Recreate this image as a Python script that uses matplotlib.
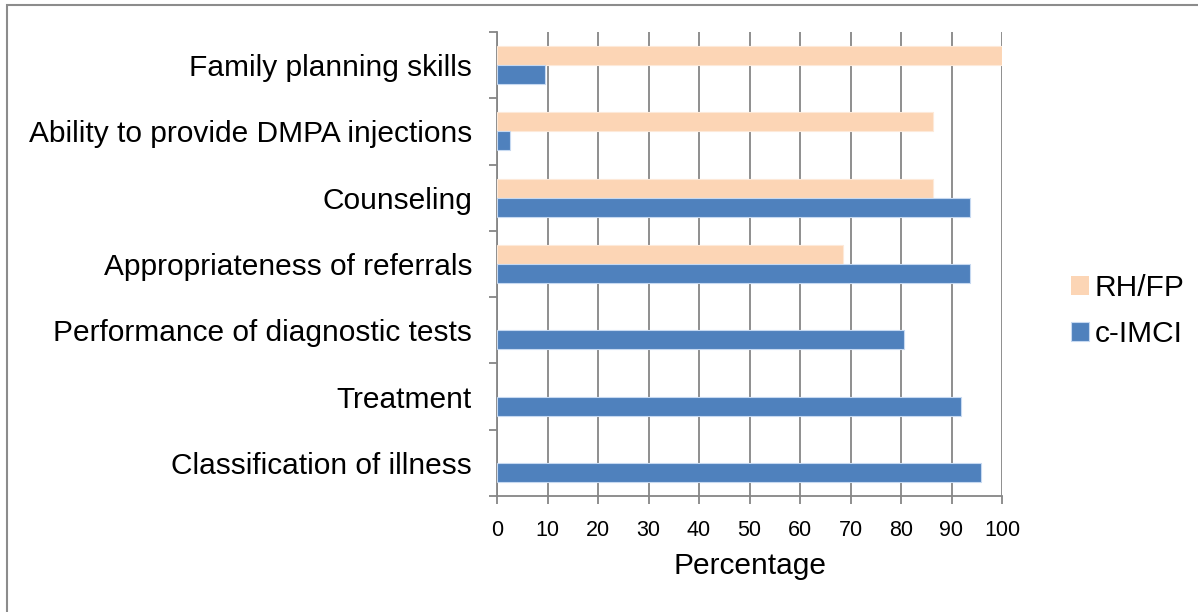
import numpy as np
import matplotlib.pyplot as plt
from matplotlib.patches import Rectangle

plt.rcParams['font.family'] = ['Liberation Sans', 'DejaVu Sans']

# categories listed bottom to top
categories = ['Classification of illness', 'Treatment', 'Performance of diagnostic tests',
              'Appropriateness of referrals', 'Counseling',
              'Ability to provide DMPA injections', 'Family planning skills']
cimci = [95.9, 91.8, 80.5, 93.7, 93.7, 2.6, 9.6]
rhfp = [0, 0, 0, 68.6, 86.3, 86.3, 100]
xticks = [0, 10, 20, 30, 40, 50, 60, 70, 80, 90, 100]

grid_col = '#868686'
fig = plt.figure(figsize=(11.98, 6.12), dpi=100)
ax = fig.add_axes([497/1198, 1-496/612, 505/1198, 464/612])

y = np.arange(len(categories))
h = 0.287
# no outline on empty bars
lw_rh = [0.8 if v > 0 else 0 for v in rhfp]
lw_ci = [0.8 if v > 0 else 0 for v in cimci]
ax.barh(y + h/2, rhfp, height=h, color='#FCD5B5', edgecolor='#FDE9D9', linewidth=lw_rh,
        label='RH/FP', zorder=3)
ax.barh(y - h/2, cimci, height=h, color='#4F81BD', edgecolor='#C6D9F1', linewidth=lw_ci,
        label='c-IMCI', zorder=3)

ax.set_xlim(0, 100)
ax.set_ylim(-0.5, len(categories) - 0.5)
ax.set_xticks(xticks)
ax.set_xticklabels([str(t) for t in xticks], fontsize=15.5)
ax.set_yticks(y)
ax.set_yticklabels(categories, fontsize=21.5)
ax.set_yticks(np.arange(-0.5, len(categories)), minor=True)
ax.tick_params(axis='y', which='major', length=0, pad=18)
ax.tick_params(axis='y', which='minor', length=6, color=grid_col, width=1.3)
ax.tick_params(axis='x', length=6, color=grid_col, width=1.3, pad=11)
ax.grid(axis='x', color=grid_col, linewidth=1.3, zorder=0)
ax.set_axisbelow(True)
for s in ['top', 'right']:
    ax.spines[s].set_visible(False)
for s in ['left', 'bottom']:
    ax.spines[s].set_color(grid_col)
    ax.spines[s].set_linewidth(1.3)
ax.set_xlabel('Percentage', fontsize=21.5, labelpad=8)

handles, labels = ax.get_legend_handles_labels()
fig.legend(handles, labels, loc='center left', bbox_to_anchor=(1056/1198, 1-311/612),
           frameon=False, fontsize=21.5, handlelength=0.6, handleheight=0.6,
           handletextpad=0.2, labelspacing=0.6, borderpad=0)

fig.patches.append(Rectangle((7/1198, -0.1), 1.2, 1-5/612+0.1, transform=fig.transFigure,
                             fill=False, edgecolor='#8C8C8C', linewidth=1.5))

fig.savefig('out.png', dpi=100)
